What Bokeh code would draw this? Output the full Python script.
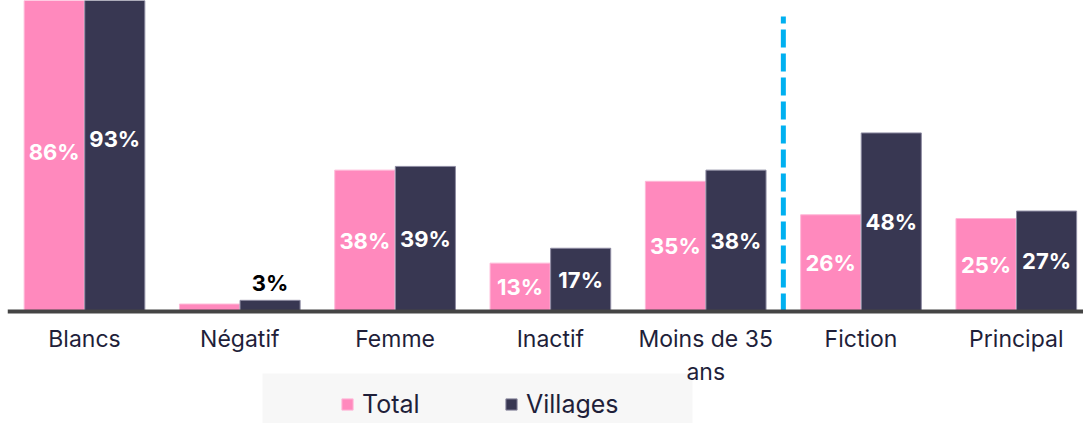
from bokeh.plotting import figure
from bokeh.models import (ColumnDataSource, Range1d, LinearAxis, FixedTicker,
                          Legend, LegendItem, BoxAnnotation)
from bokeh.transform import dodge
from bokeh.core.properties import value
from bokeh.embed import file_html
from bokeh.resources import INLINE

categories = ["Blancs", "Négatif", "Femme", "Inactif", "Moins de 35\nans", "Fiction", "Principal"]
total = [86, 2, 38, 13, 35, 26, 25]
villages = [93, 3, 39, 17, 38, 48, 27]
separator_after = "Moins de 35\nans"

PINK = "#FF89BD"
NAVY = "#383752"
PX_X = 155.3
PX_Y = 3.72
W, H = 1083, 423
LEFT = 7
BASE = 311

idx = list(range(len(categories)))
src = ColumnDataSource(dict(x=idx, total=total, villages=villages))

x_start = -(84 - LEFT) / PX_X
p = figure(width=W, height=H, output_backend="svg", toolbar_location=None,
           x_range=Range1d(x_start, x_start + (W - LEFT) / PX_X),
           y_range=Range1d(-(H - BASE) / PX_Y, BASE / PX_Y),
           x_axis_location=None, y_axis_location=None,
           min_border=0, min_border_left=LEFT, min_border_right=0,
           min_border_top=0, min_border_bottom=0)
p.outline_line_color = None
p.xgrid.visible = False
p.ygrid.visible = False
p.background_fill_color = "white"
p.border_fill_color = "white"

# legend background panel
box = BoxAnnotation(left=262, right=692, top=373, bottom=430,
                    left_units="canvas", right_units="canvas",
                    top_units="canvas", bottom_units="canvas",
                    fill_color="#F7F7F7", fill_alpha=1, line_color=None, level="underlay")
p.add_layout(box)

r_t = p.vbar(x=dodge("x", -0.195, range=p.x_range), top="total", width=0.387, source=src,
             fill_color=PINK, line_color="#FFB8D8", line_width=1)
r_v = p.vbar(x=dodge("x", 0.195, range=p.x_range), top="villages", width=0.387, source=src,
             fill_color=NAVY, line_color="#8D8BA2", line_width=1)

# value labels: inside (white, middle) for large values, above (black) for small ones
def label_sources(vals, off):
    inside = dict(x=[], y=[], t=[])
    above = dict(x=[], y=[], t=[])
    for i, v in zip(idx, vals):
        if v >= 5:
            inside["x"].append(i + off); inside["y"].append(v / 2); inside["t"].append(f"{v}%")
        elif v >= 3:
            above["x"].append(i + off); above["y"].append(v); above["t"].append(f"{v}%")
    return ColumnDataSource(inside), ColumnDataSource(above)

for vals, off in ((total, -0.195), (villages, 0.195)):
    ins, abv = label_sources(vals, off)
    p.text(x="x", y="y", text="t", source=ins, text_color="white", text_font=value("Inter"),
           text_font_style="bold", text_font_size="22px", text_align="center",
           text_baseline="middle")
    p.text(x="x", y="y", text="t", source=abv, text_color="black", text_font=value("Inter"),
           text_font_style="bold", text_font_size="22px", text_align="center",
           text_baseline="bottom", y_offset=-4)

# dashed separator between groups
sep_x = categories.index(separator_after) + 0.5
p.segment(x0=[sep_x], y0=[0], x1=[sep_x], y1=[79.3], line_color="#00B0F0",
          line_width=5, line_dash="18 6")

# category axis at y = 0
ax = LinearAxis(fixed_location=0, ticker=FixedTicker(ticks=idx),
                major_label_overrides={i: c for i, c in zip(idx, categories)})
ax.axis_line_width = 4
ax.axis_line_color = "#444444"
ax.major_tick_line_color = None
ax.minor_tick_line_color = None
ax.major_label_text_font = "Inter"
ax.major_label_text_font_size = "23px"
ax.major_label_text_color = "#1F1F3A"
ax.major_label_standoff = 7
p.add_layout(ax, "below")

legend = Legend(items=[LegendItem(label="Total", renderers=[r_t]),
                       LegendItem(label="Villages", renderers=[r_v])],
                orientation="horizontal", location=(333, 4),
                padding=0, margin=0, spacing=0, label_width=142,
                glyph_width=14, glyph_height=14, label_standoff=8,
                label_text_font="Inter", label_text_font_size="25px",
                label_text_color="#1F1F3A",
                background_fill_alpha=0, border_line_color=None)
p.add_layout(legend)

open("out.html", "w").write(file_html(p, INLINE))
